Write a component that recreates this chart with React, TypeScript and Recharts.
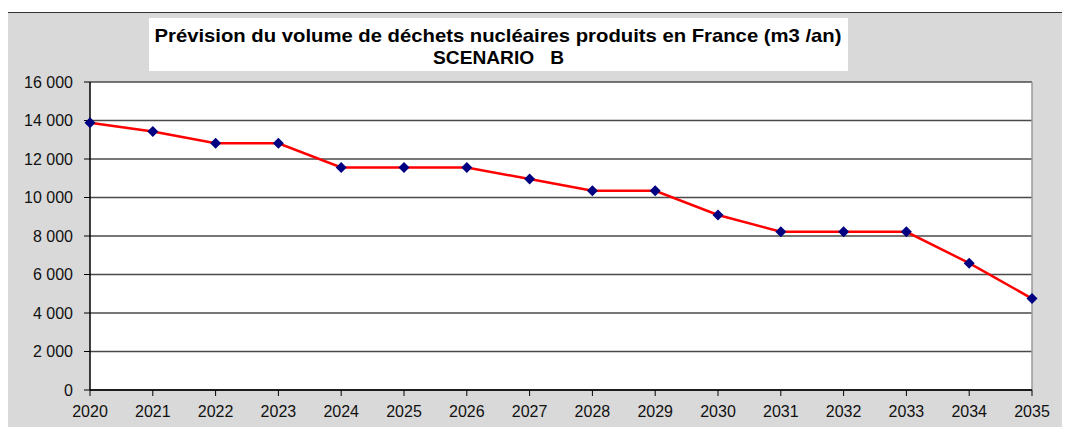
import React from 'react';
import { LineChart, Line, XAxis, YAxis, CartesianGrid, ReferenceLine } from 'recharts';

const years = ['2020', '2021', '2022', '2023', '2024', '2025', '2026', '2027', '2028', '2029', '2030', '2031', '2032', '2033', '2034', '2035'];
const volumes = [13880, 13430, 12820, 12820, 11560, 11560, 11560, 10960, 10350, 10350, 9090, 8220, 8220, 8220, 6590, 4750];
const yTicks = [0, 2000, 4000, 6000, 8000, 10000, 12000, 14000, 16000];

const titleLine1 = 'Prévision du volume de déchets nucléaires produits en France (m3 /an)';
const titleLine2 = 'SCENARIO   B';

const data = years.map((year, i) => ({ year, volume: volumes[i] }));

const FONT = '"Liberation Sans", Arial, sans-serif';

const fmt = (v: number) => (v >= 1000 ? `${Math.floor(v / 1000)} ${String(v % 1000).padStart(3, '0')}` : String(v));

const Diamond = (props: any) => {
  const { cx, cy } = props;
  if (cx == null || cy == null) return null;
  const r = 5.5;
  return <polygon points={`${cx},${cy - r} ${cx + r},${cy} ${cx},${cy + r} ${cx - r},${cy}`} fill="#000080" />;
};

export default function App() {
  return (
    <div style={{ position: 'relative', width: 1070, height: 435, margin: -8, overflow: 'hidden', background: '#fff' }}>
      <div
        style={{
          position: 'absolute',
          left: 7,
          top: 12,
          width: 1100,
          height: 440,
          background: '#d9d9d9',
          borderLeft: '1.5px solid #333',
          borderTop: '1.5px solid #333',
        }}
      />
      <div style={{ position: 'absolute', left: 149, top: 18, width: 699, height: 53, background: '#fff' }} />
      <svg width={1070} height={80} style={{ position: 'absolute', left: 0, top: 0 }}>
        <text
          x={498}
          y={42}
          textAnchor="middle"
          fontFamily={FONT}
          fontWeight="bold"
          fontSize={18.5}
          fill="#000"
          textLength={687}
          lengthAdjust="spacingAndGlyphs"
        >
          {titleLine1}
        </text>
        <text
          x={498.5}
          y={64}
          textAnchor="middle"
          fontFamily={FONT}
          fontWeight="bold"
          fontSize={18}
          fill="#000"
          textLength={131}
          lengthAdjust="spacingAndGlyphs"
          style={{ whiteSpace: 'pre' }}
        >
          {titleLine2}
        </text>
      </svg>
      <div style={{ position: 'absolute', left: 0, top: 0 }}>
        <LineChart width={1070} height={435} data={data} margin={{ top: 82, right: 38, left: 30, bottom: 15 }}>
          <CartesianGrid vertical={false} fill="#fff" stroke="#4a4a4a" strokeWidth={1.5} />
          <ReferenceLine x="2035" stroke="#999" strokeWidth={1.5} />
          <XAxis
            dataKey="year"
            height={30}
            tickSize={6}
            tickMargin={10}
            interval={0}
            axisLine={{ stroke: '#000', strokeWidth: 1.5 }}
            tickLine={{ stroke: '#000' }}
            tick={{ fill: '#111', fontSize: 16, fontFamily: FONT }}
          />
          <YAxis
            width={60}
            domain={[0, 16000]}
            ticks={yTicks}
            tickFormatter={fmt}
            tickSize={6}
            tickMargin={11}
            axisLine={{ stroke: '#000', strokeWidth: 1.5 }}
            tickLine={{ stroke: '#000' }}
            tick={{ fill: '#111', fontSize: 16, fontFamily: FONT }}
          />
          <Line
            dataKey="volume"
            stroke="#ff0000"
            strokeWidth={2.5}
            dot={<Diamond />}
            activeDot={false}
            isAnimationActive={false}
          />
        </LineChart>
      </div>
    </div>
  );
}
